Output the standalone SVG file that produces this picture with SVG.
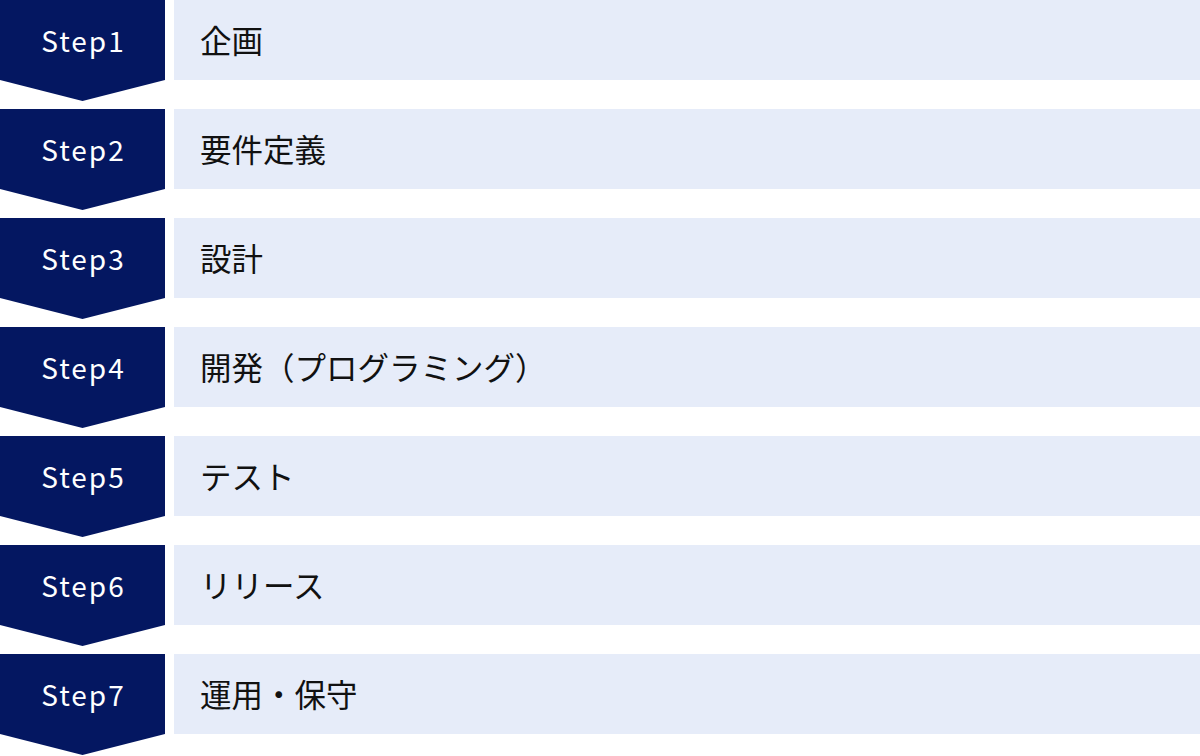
<svg xmlns="http://www.w3.org/2000/svg" width="1200" height="756" viewBox="0 0 1200 756">
<defs>
<style>
.chev{fill:#041761}
.box{fill:#E6ECF9}
.step{font-family:"Noto Sans CJK JP","Noto Sans",sans-serif;font-size:28px;fill:#ffffff;text-anchor:middle;letter-spacing:2px}
.lbl{font-family:"Noto Sans CJK JP","Noto Sans",sans-serif;font-size:31.5px;fill:#111111}
</style>
<path id="chevShape" class="chev" d="M0 0H165V80L82.5 101L0 80Z"/>
</defs>
<g id="step1" transform="translate(0,0)"><use href="#chevShape"/><rect class="box" x="174" y="0" width="1026" height="80"/><text class="step" x="83.5" y="52">Step1</text><text class="lbl" x="200" y="52.5">企画</text></g>
<g id="step2" transform="translate(0,109)"><use href="#chevShape"/><rect class="box" x="174" y="0" width="1026" height="80"/><text class="step" x="83.5" y="52">Step2</text><text class="lbl" x="200" y="52.5">要件定義</text></g>
<g id="step3" transform="translate(0,218)"><use href="#chevShape"/><rect class="box" x="174" y="0" width="1026" height="80"/><text class="step" x="83.5" y="52">Step3</text><text class="lbl" x="200" y="52.5">設計</text></g>
<g id="step4" transform="translate(0,327)"><use href="#chevShape"/><rect class="box" x="174" y="0" width="1026" height="80"/><text class="step" x="83.5" y="52">Step4</text><text class="lbl" x="200" y="52.5">開発（プログラミング）</text></g>
<g id="step5" transform="translate(0,436)"><use href="#chevShape"/><rect class="box" x="174" y="0" width="1026" height="80"/><text class="step" x="83.5" y="52">Step5</text><text class="lbl" x="200" y="52.5">テスト</text></g>
<g id="step6" transform="translate(0,545)"><use href="#chevShape"/><rect class="box" x="174" y="0" width="1026" height="80"/><text class="step" x="83.5" y="52">Step6</text><text class="lbl" x="200" y="52.5">リリース</text></g>
<g id="step7" transform="translate(0,654)"><use href="#chevShape"/><rect class="box" x="174" y="0" width="1026" height="80"/><text class="step" x="83.5" y="52">Step7</text><text class="lbl" x="200" y="52.5">運用・保守</text></g>
<g id="connectors"></g>
</svg>
